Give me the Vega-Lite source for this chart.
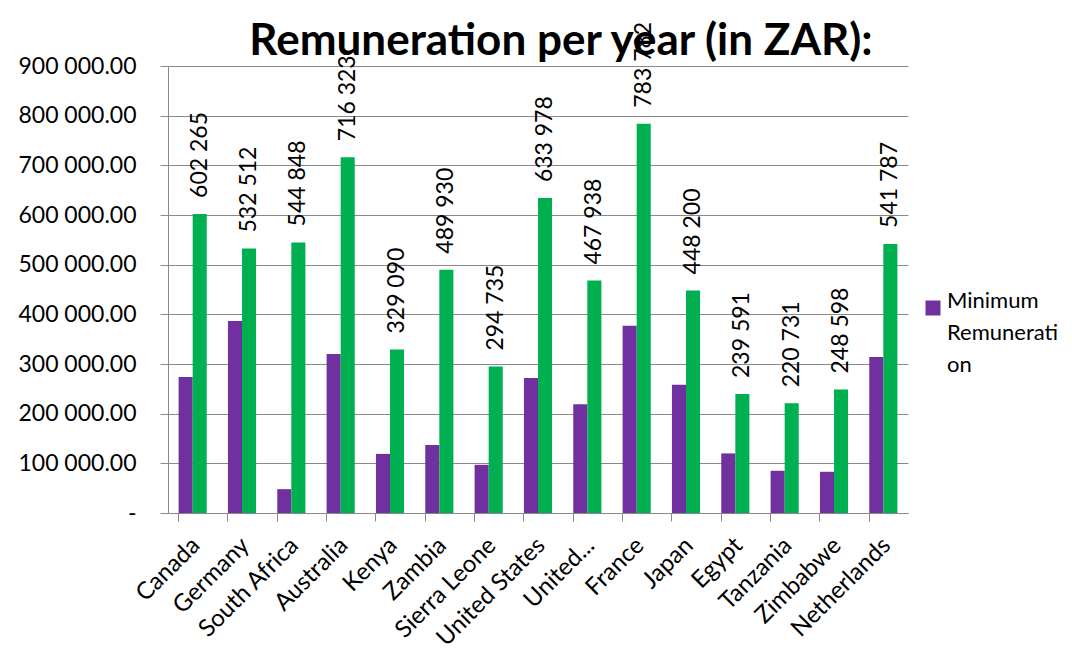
{
  "$schema": "https://vega.github.io/schema/vega-lite/v6.json",
  "width": 740,
  "height": 447,
  "autosize": "none",
  "padding": {"left": 168, "top": 66, "right": 164, "bottom": 144},
  "background": "white",
  "config": {
    "locale": {"number": {"decimal": ".", "thousands": " ", "grouping": [3], "currency": ["", ""]}},
    "font": "Lato",
    "view": {"stroke": null},
    "style": {"guide-label": {"lineHeight": 32}}
  },
  "title": {
    "text": "Remuneration per year (in ZAR):",
    "font": "Lato",
    "fontSize": 44,
    "fontWeight": "bold",
    "color": "#000000",
    "anchor": "middle",
    "baseline": "alphabetic",
    "offset": -77,
    "dx": 23
  },
  "data": {
    "values": [
      {"country": "Canada", "series": "Minimum Remuneration", "value": 274000},
      {"country": "Canada", "series": "Maximum Remuneration", "value": 602265},
      {"country": "Germany", "series": "Minimum Remuneration", "value": 386500},
      {"country": "Germany", "series": "Maximum Remuneration", "value": 532512},
      {"country": "South Africa", "series": "Minimum Remuneration", "value": 48000},
      {"country": "South Africa", "series": "Maximum Remuneration", "value": 544848},
      {"country": "Australia", "series": "Minimum Remuneration", "value": 320000},
      {"country": "Australia", "series": "Maximum Remuneration", "value": 716323},
      {"country": "Kenya", "series": "Minimum Remuneration", "value": 119000},
      {"country": "Kenya", "series": "Maximum Remuneration", "value": 329090},
      {"country": "Zambia", "series": "Minimum Remuneration", "value": 137000},
      {"country": "Zambia", "series": "Maximum Remuneration", "value": 489930},
      {"country": "Sierra Leone", "series": "Minimum Remuneration", "value": 97000},
      {"country": "Sierra Leone", "series": "Maximum Remuneration", "value": 294735},
      {"country": "United States", "series": "Minimum Remuneration", "value": 272000},
      {"country": "United States", "series": "Maximum Remuneration", "value": 633978},
      {"country": "United Kingdom", "series": "Minimum Remuneration", "value": 219000},
      {"country": "United Kingdom", "series": "Maximum Remuneration", "value": 467938},
      {"country": "France", "series": "Minimum Remuneration", "value": 377000},
      {"country": "France", "series": "Maximum Remuneration", "value": 783782},
      {"country": "Japan", "series": "Minimum Remuneration", "value": 258000},
      {"country": "Japan", "series": "Maximum Remuneration", "value": 448200},
      {"country": "Egypt", "series": "Minimum Remuneration", "value": 120000},
      {"country": "Egypt", "series": "Maximum Remuneration", "value": 239591},
      {"country": "Tanzania", "series": "Minimum Remuneration", "value": 85000},
      {"country": "Tanzania", "series": "Maximum Remuneration", "value": 220731},
      {"country": "Zimbabwe", "series": "Minimum Remuneration", "value": 83000},
      {"country": "Zimbabwe", "series": "Maximum Remuneration", "value": 248598},
      {"country": "Netherlands", "series": "Minimum Remuneration", "value": 314000},
      {"country": "Netherlands", "series": "Maximum Remuneration", "value": 541787}
    ]
  },
  "encoding": {
    "x": {
      "field": "country",
      "type": "nominal",
      "sort": null,
      "title": null,
      "scale": {"paddingInner": 0.43, "paddingOuter": 0.215},
      "axis": {
        "bandPosition": 0,
        "labelOffset": -5,
        "labelAngle": -45,
        "labelAlign": "right",
        "labelBaseline": "top",
        "labelFont": "Lato",
        "labelFontSize": 24,
        "labelColor": "#000000",
        "labelPadding": 12,
        "labelOverlap": false,
        "tickSize": 8,
        "tickColor": "#898989",
        "domainColor": "#898989",
        "grid": false,
        "labelExpr": "datum.label == 'United Kingdom' ? 'United...' : datum.label"
      }
    },
    "xOffset": {
      "field": "series",
      "type": "nominal",
      "sort": ["Minimum Remuneration", "Maximum Remuneration"]
    },
    "y": {
      "field": "value",
      "type": "quantitative",
      "title": null,
      "scale": {"domain": [0, 900000], "nice": false},
      "axis": {
        "values": [0, 100000, 200000, 300000, 400000, 500000, 600000, 700000, 800000, 900000],
        "labelExpr": "datum.value == 0 ? '-' : format(datum.value, ',.2f')",
        "labelFont": "Lato",
        "labelFontSize": 23,
        "labelColor": "#000000",
        "labelPadding": 24,
        "tickSize": 8,
        "tickColor": "#898989",
        "domainColor": "#898989",
        "gridColor": "#898989",
        "gridOpacity": 1
      }
    }
  },
  "layer": [
    {
      "mark": {"type": "bar"},
      "encoding": {
        "color": {
          "field": "series",
          "type": "nominal",
          "scale": {"domain": ["Minimum Remuneration", "Maximum Remuneration"], "range": ["#7030A0", "#00B050"]},
          "legend": {
            "values": ["Minimum Remuneration"],
            "title": null,
            "orient": "none",
            "legendX": 754,
            "legendY": 231,
            "symbolType": "square",
            "symbolSize": 225,
            "symbolStrokeWidth": 0,
            "labelFont": "Lato",
            "labelFontSize": 22,
            "labelColor": "#000000",
            "labelLimit": 0,
            "labelExpr": "['Minimum', 'Remunerati', 'on']",
            "labelBaseline": "alphabetic",
            "labelOffset": 3
          }
        }
      }
    },
    {
      "transform": [{"filter": "datum.series == 'Maximum Remuneration'"}],
      "mark": {
        "type": "text",
        "angle": -90,
        "align": "left",
        "baseline": "middle",
        "dx": 16,
        "font": "Lato",
        "fontSize": 23,
        "color": "#000000"
      },
      "encoding": {
        "text": {"field": "value", "type": "quantitative", "format": ",.0f"}
      }
    }
  ]
}
